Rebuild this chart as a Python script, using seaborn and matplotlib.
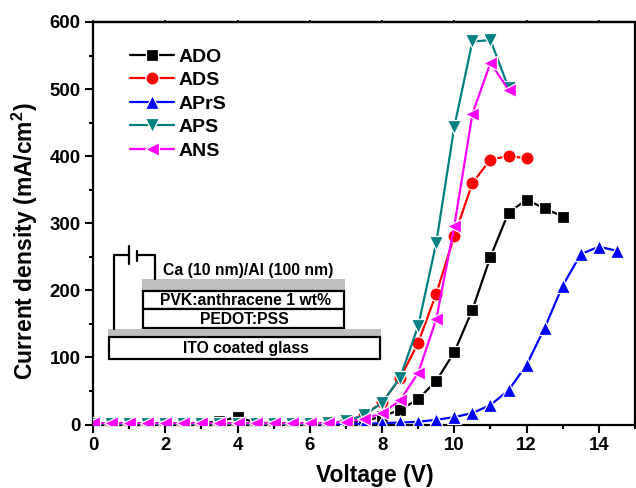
import matplotlib
matplotlib.use("Agg")
import matplotlib.pyplot as plt
import seaborn as sns
from matplotlib.patches import Rectangle

voltage = [0, 0.5, 1, 1.5, 2, 2.5, 3, 3.5, 4, 4.5, 5, 5.5, 6, 6.5, 7, 7.5, 8, 8.5, 9, 9.5,
           10, 10.5, 11, 11.5, 12, 12.5, 13, 13.5, 14, 14.5]

ado = [1, 1, 1, 1, 1, 1, 2, 5, 11, 3, 2, 2, 1, 2, 3, 5, 12, 22, 38, 65,
       108, 171, 250, 316, 335, 322, 310]
ads = [1, 1, 1, 1, 1, 1, 1, 1, 1, 1, 1, 1, 1, 2, 5, 14, 33, 69, 122, 195,
       281, 360, 395, 400, 397]
aprs = [1, 1, 1, 1, 1, 1, 1, 1, 1, 1, 1, 1, 1, 1, 1, 1, 2, 3, 4, 7,
        11, 17, 29, 51, 89, 144, 207, 254, 265, 259]
aps = [1, 1, 1, 1, 1, 1, 1, 1, 1, 1, 1, 1, 1, 2, 5, 14, 32, 70, 147, 271,
       444, 571, 573, 502]
ans = [2, 2, 2, 2, 2, 2, 2, 2, 2, 2, 2, 2, 2, 2, 4, 8, 17, 36, 77, 157,
       296, 463, 539, 499]

series = [("ADO", ado, "black", "s", 8.5),
          ("ADS", ads, "red", "o", 9.5),
          ("APrS", aprs, "blue", "^", 10),
          ("APS", aps, "teal", "v", 10),
          ("ANS", ans, "magenta", "<", 10)]

sns.set_style("ticks")
plt.rcParams["font.family"] = ["Liberation Sans", "DejaVu Sans"]
plt.rcParams["font.weight"] = "bold"
plt.rcParams["mathtext.fontset"] = "custom"
plt.rcParams["mathtext.bf"] = "Liberation Sans:bold"
plt.rcParams["text.color"] = "black"
plt.rcParams["axes.labelcolor"] = "black"
plt.rcParams["xtick.color"] = "black"
plt.rcParams["ytick.color"] = "black"
plt.rcParams["axes.edgecolor"] = "black"

W, H = 636, 488
fig = plt.figure(figsize=(W / 100, H / 100), dpi=100)
ax = fig.add_axes([93 / W, 1 - 424.5 / H, 542 / W, 402.5 / H])

for name, values, color, marker, size in series:
    sns.lineplot(x=voltage[:len(values)], y=values, ax=ax, label=name, color=color,
                 marker=marker, markersize=size, markeredgecolor="white", markeredgewidth=0.9,
                 linewidth=1.6, errorbar=None, zorder=3)

ax.set_xlim(0, 15)
ax.set_ylim(0, 600)
ax.set_xticks([0, 2, 4, 6, 8, 10, 12, 14])
ax.set_xticks([1, 3, 5, 7, 9, 11, 13, 15], minor=True)
ax.set_yticks([0, 100, 200, 300, 400, 500, 600])
ax.set_yticks([50, 150, 250, 350, 450, 550], minor=True)
ax.tick_params(which="major", length=6, width=1.5, labelsize=13.4, pad=3)
ax.tick_params(which="minor", length=3, width=1.5)
for spine in ax.spines.values():
    spine.set_visible(True)
    spine.set_linewidth(1.6)

# top axis only has tiny ticks
top = ax.secondary_xaxis("top")
top.set_xticks([0, 2, 4, 6, 8, 10, 12, 14])
top.set_xticklabels([])
top.tick_params(length=1.5, width=1.2)
top.spines["top"].set_linewidth(1.6)

ax.set_xlabel("Voltage (V)", fontsize=16.5, fontweight="bold")
ax.set_ylabel("Current density (mA/cm$\\mathbf{^2}$)", fontsize=16.5, fontweight="bold")
ax.xaxis.set_label_coords(0.52, -0.098)
ax.yaxis.set_label_coords(-0.097, 0.455)

ax.legend(loc="upper left", bbox_to_anchor=(0.069, 0.935), frameon=False, fontsize=14,
          handlelength=2.25, handletextpad=0.25, labelspacing=0.3, borderpad=0, borderaxespad=0)

# device sketch, in figure pixels
sketch = fig.add_axes([0, 0, 1, 1], zorder=5)
sketch.set_xlim(0, W)
sketch.set_ylim(H, 0)
sketch.axis("off")
sketch.patch.set_alpha(0)

sketch.add_patch(Rectangle((142, 279), 203, 11, fc="#bfbfbf", ec="none"))
sketch.add_patch(Rectangle((143, 291), 201, 18, fc="white", ec="black", lw=1.6))
sketch.add_patch(Rectangle((143, 309), 201, 19, fc="white", ec="black", lw=1.6))
sketch.add_patch(Rectangle((108, 329), 273, 8, fc="#bfbfbf", ec="none"))
sketch.add_patch(Rectangle((109, 337), 271, 22, fc="white", ec="black", lw=1.6))

sketch.plot([114, 114, 129], [329, 255, 255], color="black", lw=1.6)
sketch.plot([137, 155, 155], [255, 255, 279], color="black", lw=1.6)
sketch.plot([129, 129], [246, 264], color="black", lw=1.6)
sketch.plot([137, 137], [251, 261], color="black", lw=1.6)

sketch.text(248, 270, "Ca (10 nm)/Al (100 nm)", ha="center", va="center", fontsize=11.3)
sketch.text(246, 300.5, "PVK:anthracene 1 wt%", ha="center", va="center", fontsize=11.3)
sketch.text(244, 320, "PEDOT:PSS", ha="center", va="center", fontsize=11.3)
sketch.text(246, 348, "ITO coated glass", ha="center", va="center", fontsize=11.3)

fig.savefig("out.png", dpi=100)
plt.close(fig)
